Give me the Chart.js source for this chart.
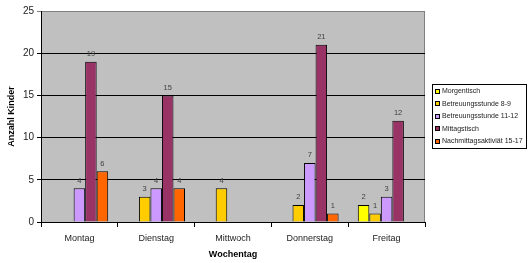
<!DOCTYPE html>
<html lang="de">
<head>
    <meta charset="UTF-8">
    <title>Anzahl Kinder pro Wochentag</title>
    <script src="https://cdn.jsdelivr.net/npm/chart.js"></script>
    <style>
        body { margin: 0; background: #fff; }
    </style>
</head>
<body>
    <canvas id="myChart" width="528" height="263"></canvas>
    <script>
        // Daten
        const days = ['Montag', 'Dienstag', 'Mittwoch', 'Donnerstag', 'Freitag'];
        const morgentisch = [null, null, null, null, 2];
        const betreuung89 = [null, 3, 4, 2, 1];
        const betreuung1112 = [4, 4, null, 7, 3];
        const mittagstisch = [19, 15, null, 21, 12];
        const nachmittag = [6, 4, null, 1, null];
        const yTicks = [0, 5, 10, 15, 20, 25];

        const fontFamily = '"Liberation Sans", Arial, sans-serif';

        // grauer Hintergrund der Zeichenfläche
        const plotBackground = {
            id: 'plotBackground',
            beforeDraw(chart) {
                const {ctx, chartArea: a} = chart;
                ctx.save();
                ctx.fillStyle = '#c0c0c0';
                ctx.fillRect(a.left, a.top, a.right - a.left, a.bottom - a.top);
                ctx.strokeStyle = '#808080';
                ctx.lineWidth = 1;
                ctx.strokeRect(a.left + 0.5, a.top + 0.5, a.right - a.left - 1, a.bottom - a.top);
                ctx.restore();
            }
        };

        // Werte über den Balken
        const barLabels = {
            id: 'barLabels',
            afterDatasetsDraw(chart) {
                const ctx = chart.ctx;
                ctx.save();
                ctx.font = '7.5px ' + fontFamily;
                ctx.fillStyle = '#404040';
                ctx.textAlign = 'center';
                ctx.textBaseline = 'bottom';
                chart.data.datasets.forEach((ds, i) => {
                    chart.getDatasetMeta(i).data.forEach((bar, j) => {
                        const v = ds.data[j];
                        if (v === null) return;
                        ctx.fillText(v, bar.x, bar.y - 4);
                    });
                });
                ctx.restore();
            }
        };

        // Legende mit Rahmen rechts
        const boxLegend = {
            id: 'boxLegend',
            afterDraw(chart) {
                const ctx = chart.ctx;
                const x = 432, y = 84, w = 94, h = 64;
                ctx.save();
                ctx.fillStyle = '#fff';
                ctx.fillRect(x, y, w, h);
                ctx.strokeStyle = '#000';
                ctx.lineWidth = 1;
                ctx.strokeRect(x + 0.5, y + 0.5, w, h);
                ctx.font = '7px ' + fontFamily;
                ctx.textBaseline = 'middle';
                chart.data.datasets.forEach((ds, i) => {
                    const cy = y + 7 + i * 12.6;
                    ctx.fillStyle = ds.backgroundColor;
                    ctx.fillRect(x + 3, Math.round(cy - 2.5), 5, 5);
                    ctx.strokeStyle = '#000';
                    ctx.strokeRect(x + 3.5, Math.round(cy - 2.5) + 0.5, 4, 4);
                    ctx.fillStyle = '#222';
                    ctx.fillText(ds.label, x + 10, cy);
                });
                ctx.restore();
            }
        };

        const mk = (label, data, color) => ({
            label: label,
            data: data,
            backgroundColor: color,
            borderColor: '#000',
            borderWidth: 1,
            categoryPercentage: 0.75,
            barPercentage: 1.0
        });

        new Chart(document.getElementById('myChart'), {
            type: 'bar',
            data: {
                labels: days,
                datasets: [
                    mk('Morgentisch', morgentisch, '#ffff00'),
                    mk('Betreuungsstunde 8-9', betreuung89, '#ffcc00'),
                    mk('Betreuungsstunde 11-12', betreuung1112, '#cc99ff'),
                    mk('Mittagstisch', mittagstisch, '#993366'),
                    mk('Nachmittagsaktiviät 15-17', nachmittag, '#ff6600')
                ]
            },
            options: {
                responsive: false,
                animation: false,
                layout: { padding: { top: 11, right: 103, left: 0, bottom: 0 } },
                plugins: {
                    legend: { display: false },
                    tooltip: { enabled: false }
                },
                scales: {
                    x: {
                        afterFit(scale) { scale.height = 41; },
                        grid: { offset: true, drawOnChartArea: false, drawTicks: true, tickLength: 5, color: '#000' },
                        border: { display: true, color: '#000' },
                        ticks: { color: '#222', font: { family: fontFamily, size: 9 }, padding: 6 },
                        title: {
                            display: true, text: 'Wochentag', color: '#000',
                            font: { family: fontFamily, size: 9, weight: 'bold' },
                            padding: { top: 0, bottom: 3 }
                        }
                    },
                    y: {
                        min: 0,
                        max: 25,
                        afterFit(scale) { scale.width = 41; },
                        afterBuildTicks(scale) { scale.ticks = yTicks.map(v => ({ value: v })); },
                        grid: {
                            color: c => (c.tick && c.tick.value === 25 ? '#808080' : '#000'),
                            drawTicks: true, tickLength: 4
                        },
                        border: { display: true, color: '#000' },
                        ticks: { color: '#222', font: { family: fontFamily, size: 10 }, padding: 3 },
                        title: {
                            display: true, text: 'Anzahl Kinder', color: '#000',
                            font: { family: fontFamily, size: 9, weight: 'bold' },
                            padding: { top: 6, bottom: 0 }
                        }
                    }
                }
            },
            plugins: [plotBackground, barLabels, boxLegend]
        });
    </script>
</body>
</html>
